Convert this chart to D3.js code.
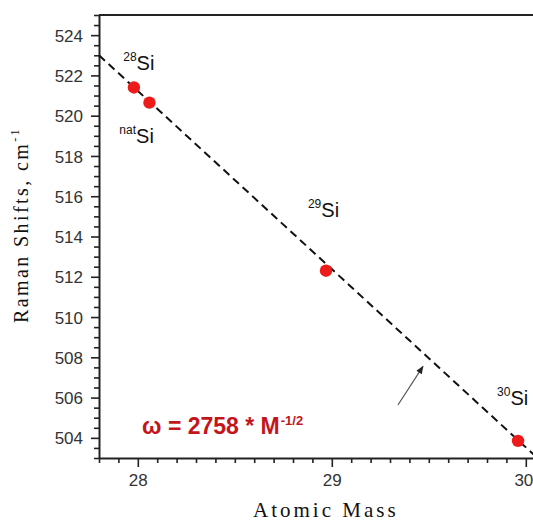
<!DOCTYPE html>
<html><head><meta charset="utf-8">
<script src="https://cdn.jsdelivr.net/npm/d3@7"></script>
<style>body{margin:0;background:#fff}svg{display:block}</style>
</head><body>
<svg id="c" width="533" height="523"></svg>
<script>
// Data
const isotopes = ["28Si", "natSi", "29Si", "30Si"];
const atomicMass = [27.98, 28.06, 28.97, 29.96];
const ramanShift = [521.4, 520.65, 512.3, 503.85];
// fitted curve omega = 2758 * M^-1/2, endpoints
const fitMass = [27.8, 30.06];
const fitShift = [523.0, 503.0];
const xTicks = [28, 29, 30];
const yTicks = [504, 506, 508, 510, 512, 514, 516, 518, 520, 522, 524];
// label anchors (mass, shift) and texts
const labelSup = ["28", "nat", "29", "30"];
const labelMass = [27.925, 27.905, 28.877, 29.852];
const labelShift = [522.27, 518.64, 514.97, 505.63];
const arrowFrom = [29.341, 505.63];
const arrowTo = [29.47, 507.55];

const svg = d3.select("#c");
const x = d3.scaleLinear().domain([27.8, 30.2]).range([99, 99 + 2.4 * 194]);
const y = d3.scaleLinear().domain([503, 525]).range([458, 15]);

const axisColor = "#222";
const font = "Arial, 'Liberation Sans', sans-serif";
// minor ticks
const xMinor = d3.range(278, 303).map(v => v / 10).filter(v => Math.abs(v - Math.round(v)) > 1e-6);
const yMinor = d3.range(503, 525.01, 0.5).filter(v => !(v % 2 === 0));

const gx = svg.append("g").attr("transform", `translate(0,${y(503)})`);
gx.call(d3.axisBottom(x).tickValues(xMinor).tickSize(5).tickFormat(""));
gx.call(g => g.select(".domain").remove());
const gx2 = svg.append("g").attr("transform", `translate(0,${y(503)})`)
  .call(d3.axisBottom(x).tickValues(xTicks).tickSize(9).tickSizeOuter(0).tickPadding(7).tickFormat(d3.format("d")));
[gx, gx2].forEach(g => {
  g.selectAll("line").attr("stroke", axisColor).attr("stroke-width", 1.6);
  g.selectAll("path").attr("stroke", axisColor).attr("stroke-width", 2);
});
gx2.selectAll("text").attr("font-family", font).attr("font-size", 17).attr("fill", "#333");
gx2.selectAll(".tick text").filter(d => d === 30).attr("text-anchor", "end").attr("dx", 7);

const gy = svg.append("g").attr("transform", `translate(${x(27.8)},0)`);
gy.call(d3.axisLeft(y).tickValues(yMinor).tickSize(5).tickFormat(""));
gy.call(g => g.select(".domain").remove());
const gy2 = svg.append("g").attr("transform", `translate(${x(27.8)},0)`)
  .call(d3.axisLeft(y).tickValues(yTicks).tickSize(8).tickSizeOuter(0).tickPadding(8).tickFormat(d3.format("d")));
[gy, gy2].forEach(g => {
  g.selectAll("line").attr("stroke", axisColor).attr("stroke-width", 1.6);
  g.selectAll("path").attr("stroke", axisColor).attr("stroke-width", 2);
});
gy2.selectAll("text").attr("font-family", font).attr("font-size", 17).attr("fill", "#333").attr("dy", "0.36em");

// top frame
svg.append("line").attr("x1", x(27.8)).attr("x2", x(30.2)).attr("y1", y(525)).attr("y2", y(525))
  .attr("stroke", axisColor).attr("stroke-width", 2);

// fit line
const fitData = fitMass.map((m, i) => [m, fitShift[i]]);
svg.append("path").datum(fitData)
  .attr("d", d3.line().x(d => x(d[0])).y(d => y(d[1])))
  .attr("fill", "none").attr("stroke", "#111").attr("stroke-width", 2)
  .attr("stroke-dasharray", "8,5");

// points
svg.selectAll("circle.pt").data(atomicMass).join("circle")
  .attr("class", "pt")
  .attr("cx", d => x(d)).attr("cy", (d, i) => y(ramanShift[i]))
  .attr("r", 6.2).attr("fill", "#ee1b1b");

// isotope labels
labelSup.forEach((s, i) => {
  const t = svg.append("text").attr("x", x(labelMass[i])).attr("y", y(labelShift[i]))
    .attr("font-family", font).attr("fill", "#111");
  t.append("tspan").attr("font-size", 12).attr("dy", -9).text(s);
  t.append("tspan").attr("font-size", 20).attr("dy", 9).text("Si");
});

// formula
const f = svg.append("text").attr("x", x(28.022)).attr("y", y(504.19))
  .attr("font-family", font).attr("font-weight", "bold").attr("fill", "#c3161c");
f.append("tspan").attr("font-size", 23).text("ω = 2758 * M");
f.append("tspan").attr("font-size", 13).attr("dy", -9).attr("dx", 1).text("-1/2");

// arrow
const defs = svg.append("defs");
defs.append("marker").attr("id", "ah").attr("viewBox", "0 0 10 10").attr("refX", 9).attr("refY", 5)
  .attr("markerWidth", 9).attr("markerHeight", 8).attr("markerUnits", "userSpaceOnUse").attr("orient", "auto")
  .append("path").attr("d", "M0,1 L10,5 L0,9 Z").attr("fill", "#222");
svg.append("line").attr("x1", x(arrowFrom[0])).attr("y1", y(arrowFrom[1]))
  .attr("x2", x(arrowTo[0])).attr("y2", y(arrowTo[1]))
  .attr("stroke", "#555").attr("stroke-width", 1.2).attr("marker-end", "url(#ah)");

// axis titles
svg.append("text").attr("x", 253).attr("y", 517)
  .attr("font-family", "'Liberation Serif', 'Times New Roman', serif").attr("font-size", 21)
  .attr("letter-spacing", 3).attr("fill", "#111").text("Atomic Mass");
const yt = svg.append("text").attr("transform", "translate(28,323) rotate(-90)")
  .attr("font-family", "'Liberation Serif', 'Times New Roman', serif").attr("font-size", 20)
  .attr("letter-spacing", 2.4).attr("fill", "#111");
yt.append("tspan").text("Raman Shifts, cm");
yt.append("tspan").attr("font-size", 12).attr("dy", -9).text("-1");
</script>
</body></html>
